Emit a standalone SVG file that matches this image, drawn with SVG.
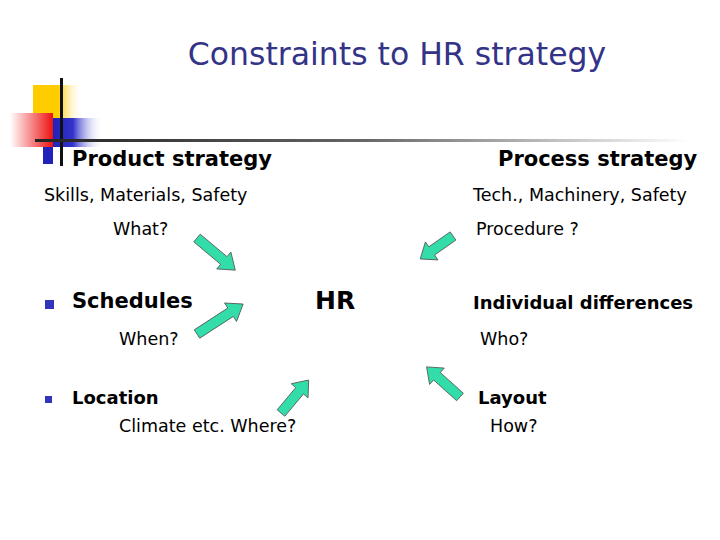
<svg xmlns="http://www.w3.org/2000/svg" width="720" height="540" viewBox="0 0 720 540">
<defs>
<linearGradient id="gy" x1="0" x2="1" y1="0" y2="0"><stop offset="0" stop-color="#FFCC00"/><stop offset="0.5" stop-color="#FFCC00"/><stop offset="1" stop-color="#FFFFFF" stop-opacity="0"/></linearGradient>
<linearGradient id="gr" x1="0" x2="1" y1="0" y2="0"><stop offset="0" stop-color="#FFFFFF"/><stop offset="1" stop-color="#EE1111"/></linearGradient>
<linearGradient id="gb" x1="0" x2="1" y1="0" y2="0"><stop offset="0" stop-color="#2222BB"/><stop offset="0.4" stop-color="#3333CC"/><stop offset="1" stop-color="#FFFFFF" stop-opacity="0"/></linearGradient>
<linearGradient id="gl" x1="0" x2="1" y1="0" y2="0"><stop offset="0" stop-color="#222222"/><stop offset="0.5" stop-color="#666666"/><stop offset="1" stop-color="#FFFFFF"/></linearGradient>
<style>
.t{font-family:"DejaVu Sans",Verdana,sans-serif;fill:#000}
.b{font-weight:bold}
.ar{fill:#33DDAA;stroke:#555;stroke-width:0.8}
.bul{fill:#3333BB}
</style>
</defs>
<rect width="720" height="540" fill="#fff"/>
<g id="logo">
<rect x="33" y="85" width="50" height="33" fill="url(#gy)"/>
<rect x="53" y="118" width="50" height="29" fill="url(#gb)"/>
<rect x="10" y="113" width="43" height="34" fill="url(#gr)"/>
<rect x="43" y="147" width="10" height="17" fill="#2222BB"/>
<rect x="60" y="78" width="3" height="88" fill="#111"/>
<rect x="35" y="139" width="655" height="3" fill="url(#gl)"/>
</g>
<text class="t" x="397" y="65" text-anchor="middle" style="font-size:31.5px;fill:#333388">Constraints to HR strategy</text>
<g id="product"><text class="t b" x="72" y="166" font-size="21">Product strategy</text>
<text class="t" x="44" y="201" font-size="17.5">Skills, Materials, Safety</text>
<text class="t" x="113" y="235" font-size="17.5">What?</text></g>
<g id="process"><text class="t b" x="498" y="166" font-size="21">Process strategy</text>
<text class="t" x="473" y="201" font-size="17.5">Tech., Machinery, Safety</text>
<text class="t" x="476" y="235" font-size="17.5">Procedure ?</text></g>
<g id="schedules"><rect class="bul" x="45" y="300" width="9" height="9"/>
<text class="t b" x="72" y="308" font-size="21">Schedules</text>
<text class="t" x="119" y="345" font-size="17.5">When?</text></g>
<g id="hr"><text class="t b" x="315" y="309" font-size="25">HR</text></g>
<g id="individual"><text class="t b" x="473" y="309" font-size="18">Individual differences</text>
<text class="t" x="480" y="345" font-size="17.5">Who?</text></g>
<g id="location"><rect class="bul" x="45" y="396" width="7" height="7"/>
<text class="t b" x="72" y="404" font-size="18">Location</text>
<text class="t" x="119" y="432" font-size="17.5">Climate etc. Where?</text></g>
<g id="layout"><text class="t b" x="478" y="404" font-size="18">Layout</text>
<text class="t" x="490" y="432" font-size="17.5">How?</text></g>
<g id="connectors">
<polygon class="ar" transform="translate(197,238) rotate(40)" points="0,-5 35,-5 35,-11 50,0 35,11 35,5 0,5"/>
<polygon class="ar" transform="translate(197,334) rotate(-33)" points="0,-5 40,-5 40,-11 55,0 40,11 40,5 0,5"/>
<polygon class="ar" transform="translate(281,413) rotate(-50)" points="0,-5 29,-5 29,-11 43,0 29,11 29,5 0,5"/>
<polygon class="ar" transform="translate(453,236) rotate(145)" points="0,-5 26,-5 26,-11 40,0 26,11 26,5 0,5"/>
<polygon class="ar" transform="translate(460,397) rotate(222)" points="0,-5 31,-5 31,-11 45,0 31,11 31,5 0,5"/>
</g>
</svg>
